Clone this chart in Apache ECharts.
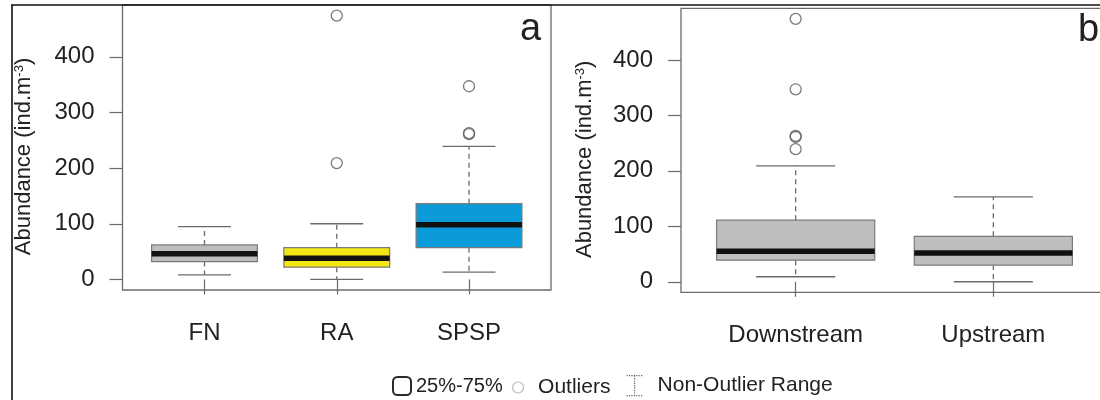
<!DOCTYPE html>
<html>
<head>
<meta charset="utf-8">
<title>Abundance box plots</title>
<script src="https://cdn.jsdelivr.net/npm/echarts@6/dist/echarts.min.js"></script>
<style>
  html, body { margin: 0; padding: 0; background: #ffffff; }
  #chart { width: 1100px; height: 400px; }
</style>
</head>
<body>
<div id="chart"></div>
<script>
// Panel a: abundance by site
const panelACategories = ['FN', 'RA', 'SPSP'];
// each row: min, Q1, median, Q3, max (whisker ends)
const panelAStats = [
  [8, 32, 46, 62, 95],
  [0, 22, 38, 57, 100],
  [13, 57, 98, 136, 239]
];
const panelAOutliers = [
  [],
  [209, 474],
  [261, 263, 347]
];

// Panel b: abundance by river stretch
const panelBCategories = ['Downstream', 'Upstream'];
const panelBStats = [
  [9, 39, 55, 111, 209],
  [0, 30, 52, 82, 153]
];
const panelBOutliers = [
  [239, 261, 263, 347, 474],
  []
];

const yTicks = [0, 100, 200, 300, 400];
const yRange = [-19, 493];

const boxColorsA = ['#bebebe', '#f3e614', '#0b9bd8'];
const boxColorsB = ['#bebebe', '#bebebe'];

const FONT = '"Liberation Sans", Arial, Helvetica, sans-serif';
const TEXT = '#222222';
const LINE = '#6b6b6b';

function statData(stats, colors) {
  return stats.map((s, i) => ({ value: [i + 1].concat(s), itemStyle: { color: colors[i] } }));
}
function outlierData(outliers) {
  const out = [];
  outliers.forEach((vals, i) => vals.forEach(v => out.push([i + 1, v])));
  return out;
}

// dashed whiskers with solid end caps
function renderWhiskers(params, api) {
  const x = api.value(0);
  const lo = api.coord([x, api.value(1)]);
  const q1 = api.coord([x, api.value(2)]);
  const q3 = api.coord([x, api.value(4)]);
  const hi = api.coord([x, api.value(5)]);
  const half = api.size([1, 0])[0] * 0.4 / 2;
  const dashed = { stroke: LINE, lineWidth: 1.3, lineDash: [5, 4] };
  const solid = { stroke: LINE, lineWidth: 1.3 };
  return {
    type: 'group',
    children: [
      { type: 'line', shape: { x1: q3[0], y1: q3[1], x2: hi[0], y2: hi[1] }, style: dashed },
      { type: 'line', shape: { x1: q1[0], y1: q1[1], x2: lo[0], y2: lo[1] }, style: dashed },
      { type: 'line', shape: { x1: hi[0] - half, y1: hi[1], x2: hi[0] + half, y2: hi[1] }, style: solid },
      { type: 'line', shape: { x1: lo[0] - half, y1: lo[1], x2: lo[0] + half, y2: lo[1] }, style: solid }
    ]
  };
}

// interquartile box with a heavy median bar
function renderBoxes(params, api) {
  const x = api.value(0);
  const q1 = api.coord([x, api.value(2)]);
  const med = api.coord([x, api.value(3)]);
  const q3 = api.coord([x, api.value(4)]);
  const w = api.size([1, 0])[0] * 0.8;
  return {
    type: 'group',
    children: [
      {
        type: 'rect',
        shape: { x: q1[0] - w / 2, y: q3[1], width: w, height: q1[1] - q3[1] },
        style: { fill: api.visual('color'), stroke: '#7a7a7a', lineWidth: 1.2 }
      },
      {
        type: 'line',
        shape: { x1: med[0] - w / 2, y1: med[1], x2: med[0] + w / 2, y2: med[1] },
        style: { stroke: '#111111', lineWidth: 5.5 }
      }
    ]
  };
}

function xAxisFor(gridIndex, cats, pad) {
  const ticks = cats.map((c, i) => i + 1);
  return {
    type: 'value',
    gridIndex: gridIndex,
    min: 0.5 - pad,
    max: cats.length + 0.5 + pad,
    axisLine: { show: false },
    splitLine: { show: false },
    axisTick: { show: true, customValues: ticks, length: 15, lineStyle: { color: LINE, width: 1.2 } },
    axisLabel: {
      customValues: ticks,
      margin: 31,
      fontSize: 24,
      fontFamily: FONT,
      color: TEXT,
      formatter: v => cats[Math.round(v) - 1] || ''
    }
  };
}

function yAxisFor(gridIndex, nameGap) {
  return {
    type: 'value',
    gridIndex: gridIndex,
    min: yRange[0],
    max: yRange[1],
    name: '{n|Abundance (ind.m}{s|-3}{n|)}',
    nameLocation: 'middle',
    nameGap: nameGap,
    nameTextStyle: {
      padding: [0, 18, 0, 0],
      rich: {
        n: { fontSize: 22, fontFamily: FONT, color: TEXT },
        s: { fontSize: 13, fontFamily: FONT, color: TEXT, verticalAlign: 'top' }
      }
    },
    axisLine: { show: false },
    splitLine: { show: false },
    axisTick: { show: true, customValues: yTicks, length: 13, lineStyle: { color: LINE, width: 1.2 } },
    axisLabel: { customValues: yTicks, margin: 28, fontSize: 24, fontFamily: FONT, color: TEXT }
  };
}

const chart = echarts.init(document.getElementById('chart'), null, { renderer: 'canvas' });

const option = {
  animation: false,
  backgroundColor: '#ffffff',
  title: [
    { text: 'a', left: 520, top: 11, padding: 0,
      textStyle: { fontSize: 38, fontWeight: 'normal', fontFamily: FONT, color: TEXT } },
    { text: 'b', left: 1078, top: 12, padding: 0,
      textStyle: { fontSize: 38, fontWeight: 'normal', fontFamily: FONT, color: TEXT } }
  ],
  grid: [
    { left: 122.5, top: 5, width: 428.5, height: 285, show: true, borderColor: LINE, borderWidth: 1.3,
      backgroundColor: 'transparent', containLabel: false, outerBoundsMode: 'none' },
    { left: 681, top: 8.3, width: 427, height: 284, show: true, borderColor: LINE, borderWidth: 1.3,
      backgroundColor: 'transparent', containLabel: false, outerBoundsMode: 'none' }
  ],
  xAxis: [xAxisFor(0, panelACategories, 0.12), xAxisFor(1, panelBCategories, 0.08)],
  yAxis: [yAxisFor(0, 88), yAxisFor(1, 85)],
  legend: [
    {
      left: 392, top: 376, padding: 0, selectedMode: false,
      itemWidth: 18, itemHeight: 18,
      textStyle: { fontSize: 20, fontFamily: FONT, color: TEXT },
      data: [{ name: '25%-75%', icon: 'roundRect',
        itemStyle: { color: '#ffffff', borderColor: '#2a2a2a', borderWidth: 2 } }]
    },
    {
      left: 512, top: 377, padding: 0, selectedMode: false,
      itemWidth: 30, itemHeight: 11,
      textStyle: { fontSize: 21, fontFamily: FONT, color: TEXT },
      data: [{ name: 'Outliers', icon: 'circle',
        itemStyle: { color: '#ffffff', borderColor: '#a8a8a8', borderWidth: 1.2 } }]
    },
    {
      left: 626, top: 375, padding: 0, selectedMode: false,
      itemWidth: 36, itemHeight: 20,
      textStyle: { fontSize: 21, fontFamily: FONT, color: TEXT },
      data: [{ name: 'Non-Outlier Range', icon: 'path://M0,0H16M8,0V20M0,20H16',
        itemStyle: { color: 'transparent', borderColor: '#666666', borderWidth: 1.2, borderType: 'dotted' } }]
    }
  ],
  series: [
    { type: 'custom', name: 'Non-Outlier Range', xAxisIndex: 0, yAxisIndex: 0,
      renderItem: renderWhiskers, encode: { x: 0, y: [1, 2, 3, 4, 5] },
      data: statData(panelAStats, boxColorsA) },
    { type: 'custom', name: 'Non-Outlier Range', xAxisIndex: 1, yAxisIndex: 1,
      renderItem: renderWhiskers, encode: { x: 0, y: [1, 2, 3, 4, 5] },
      data: statData(panelBStats, boxColorsB) },
    { type: 'custom', name: '25%-75%', xAxisIndex: 0, yAxisIndex: 0,
      renderItem: renderBoxes, encode: { x: 0, y: [1, 2, 3, 4, 5] },
      data: statData(panelAStats, boxColorsA) },
    { type: 'custom', name: '25%-75%', xAxisIndex: 1, yAxisIndex: 1,
      renderItem: renderBoxes, encode: { x: 0, y: [1, 2, 3, 4, 5] },
      data: statData(panelBStats, boxColorsB) },
    { type: 'scatter', name: 'Outliers', xAxisIndex: 0, yAxisIndex: 0,
      symbol: 'circle', symbolSize: 11,
      itemStyle: { color: 'rgba(0,0,0,0)', borderColor: '#5a5a5a', borderWidth: 1.3 },
      data: outlierData(panelAOutliers) },
    { type: 'scatter', name: 'Outliers', xAxisIndex: 1, yAxisIndex: 1,
      symbol: 'circle', symbolSize: 11,
      itemStyle: { color: 'rgba(0,0,0,0)', borderColor: '#5a5a5a', borderWidth: 1.3 },
      data: outlierData(panelBOutliers) }
  ],
  graphic: [
    // figure frame along the top and left edges
    { type: 'line', z: 100, shape: { x1: 11, y1: 5, x2: 1100, y2: 5 }, style: { stroke: '#111111', lineWidth: 1.6 } },
    { type: 'line', z: 100, shape: { x1: 12, y1: 5, x2: 12, y2: 400 }, style: { stroke: '#111111', lineWidth: 1.6 } }
  ]
};

chart.setOption(option);
</script>
</body>
</html>
